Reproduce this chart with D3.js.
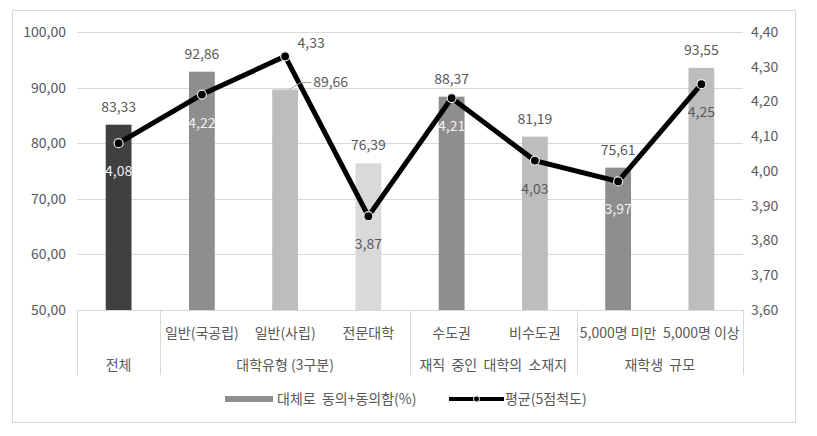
<!DOCTYPE html>
<html><head><meta charset="utf-8">
<script src="https://cdn.jsdelivr.net/npm/d3@7"></script>
<style>
body{margin:0;background:#fff;}
text{font-family:"Noto Sans CJK KR","Noto Sans",sans-serif;}
</style></head>
<body><svg id="chart" width="817" height="436"></svg>
<script>
const categories = ["전체","일반(국공립)","일반(사립)","전문대학","수도권","비수도권","5,000명 미만","5,000명 이상"];
const level1Labels = ["","일반(국공립)","일반(사립)","전문대학","수도권","비수도권","5,000명 미만","5,000명 이상"];
const groupLabels = ["전체","대학유형 (3구분)","재직  중인  대학의  소재지","재학생  규모"];
const groupSizes = [1,3,2,2];
const agreeValues = [83.33,92.86,89.66,76.39,88.37,81.19,75.61,93.55];
const meanValues = [4.08,4.22,4.33,3.87,4.21,4.03,3.97,4.25];
const leftTicks = [50,60,70,80,90,100];
const rightTicks = [3.6,3.7,3.8,3.9,4.0,4.1,4.2,4.3,4.4];
const barColors = ["#404040","#8e8e8e","#bdbdbd","#d9d9d9","#8e8e8e","#bdbdbd","#8e8e8e","#bdbdbd"];
const seriesNames = ["대체로  동의+동의함(%)","평균(5점척도)"];

const svg = d3.select("#chart");
const L=77, R=743, T=32, B=310;
const FS = 14;
const fmt2 = v => d3.format(".2f")(v).replace(".",",");

svg.append("rect").attr("x",12.5).attr("y",10.5).attr("width",783).attr("height",412)
  .attr("fill","#fff").attr("stroke","#d9d9d9");

const x = d3.scaleBand().domain(categories).range([L,R]).paddingInner(0.69).paddingOuter(0.345);
const yL = d3.scaleLinear().domain([50,100]).range([B,T]);
const yR = d3.scaleLinear().domain([3.6,4.4]).range([B,T]);
const cx = c => x(c) + x.bandwidth()/2;

// gridlines
svg.append("g").selectAll("line").data(leftTicks.slice(1)).join("line")
  .attr("x1",L).attr("x2",R).attr("y1",d=>Math.round(yL(d))+0.5).attr("y2",d=>Math.round(yL(d))+0.5)
  .attr("stroke","#d9d9d9");

// left axis labels
const lAxis = svg.append("g").attr("transform",`translate(${L},0)`)
  .call(d3.axisLeft(yL).tickValues(leftTicks).tickFormat(fmt2).tickSize(0).tickPadding(11));
lAxis.select(".domain").remove();
lAxis.selectAll("text").attr("fill","#595959").attr("font-size",FS);

const rAxis = svg.append("g").attr("transform",`translate(${R},0)`)
  .call(d3.axisRight(yR).tickValues(rightTicks).tickFormat(fmt2).tickSize(0).tickPadding(8));
rAxis.select(".domain").remove();
rAxis.selectAll("text").attr("fill","#595959").attr("font-size",FS);

// bars
svg.append("g").selectAll("rect").data(agreeValues).join("rect")
  .attr("x",(d,i)=>x(categories[i])).attr("width",x.bandwidth())
  .attr("y",d=>yL(d)).attr("height",d=>yL(50)-yL(d))
  .attr("fill",(d,i)=>barColors[i]);

// category axis
const ax = svg.append("g").attr("stroke","#d9d9d9").attr("fill","none");
ax.append("line").attr("x1",L).attr("x2",R).attr("y1",B+0.5).attr("y2",B+0.5);
let acc = 0;
const bounds=[L];
groupSizes.forEach(s=>{acc+=s; bounds.push(x(categories[acc-1]) + x.bandwidth() + x.step()*x.paddingInner()/2);});
bounds[bounds.length-1]=R;
ax.selectAll("line.sep").data(bounds).join("line").attr("class","sep")
  .attr("x1",d=>Math.round(d)+0.5).attr("x2",d=>Math.round(d)+0.5).attr("y1",B).attr("y2",375);

svg.append("g").selectAll("text").data(level1Labels).join("text")
  .attr("x",(d,i)=>cx(categories[i])).attr("y",338).attr("text-anchor","middle")
  .attr("font-size",FS).attr("fill","#595959").text(d=>d);
svg.append("g").selectAll("text").data(groupLabels).join("text")
  .attr("x",(d,i)=>(bounds[i]+bounds[i+1])/2).attr("y",370).attr("text-anchor","middle")
  .attr("font-size",FS).attr("fill","#595959").attr("xml:space","preserve").style("white-space","pre").text(d=>d);

// line
const line = d3.line().x((d,i)=>cx(categories[i])).y(d=>yR(d));
svg.append("path").datum(meanValues).attr("d",line).attr("fill","none")
  .attr("stroke","#000").attr("stroke-width",5).attr("stroke-linejoin","miter");
svg.append("g").selectAll("circle").data(meanValues).join("circle")
  .attr("cx",(d,i)=>cx(categories[i])).attr("cy",d=>yR(d)).attr("r",4.5)
  .attr("fill","#000").attr("stroke","#e8e8e8").attr("stroke-width",1.2);

// bar labels
svg.append("g").selectAll("text").data(agreeValues).join("text")
  .attr("x",(d,i)=> i===2 ? cx(categories[i])+28 : cx(categories[i]))
  .attr("y",(d,i)=> i===2 ? yL(d)-2 : yL(d)-13)
  .attr("text-anchor",(d,i)=> i===2 ? "start":"middle")
  .attr("font-size",FS).attr("fill","#595959").text(d=>fmt2(d));
// leader line for label 3
{
  const bx = cx(categories[2]), by = yL(agreeValues[2]);
  svg.append("path").attr("d",`M${bx+4},${by} L${bx+16},${by-7} L${bx+26},${by-7}`)
    .attr("fill","none").attr("stroke","#a6a6a6").attr("stroke-width",1);
}

// line labels
const whiteLabel = [true,true,false,false,true,false,true,false];
svg.append("g").selectAll("text").data(meanValues).join("text")
  .attr("x",(d,i)=> i===2 ? cx(categories[i])+26 : cx(categories[i]))
  .attr("y",(d,i)=> i===2 ? yR(d)-8 : yR(d)+33)
  .attr("text-anchor","middle").attr("font-size",FS)
  .attr("fill",(d,i)=> whiteLabel[i] ? "#f2f2f2" : "#595959").text(d=>fmt2(d));

// legend
const lg = svg.append("g");
lg.append("rect").attr("x",225).attr("y",396).attr("width",48).attr("height",6).attr("fill","#8e8e8e");
lg.append("text").attr("x",277).attr("y",404).attr("font-size",FS).attr("fill","#595959")
  .attr("xml:space","preserve").style("white-space","pre").text(seriesNames[0]);
lg.append("line").attr("x1",449).attr("x2",504).attr("y1",399).attr("y2",399).attr("stroke","#000").attr("stroke-width",4);
lg.append("circle").attr("cx",476.5).attr("cy",399).attr("r",3).attr("fill","#000").attr("stroke","#e8e8e8");
lg.append("text").attr("x",505).attr("y",404).attr("font-size",FS).attr("fill","#595959").text(seriesNames[1]);
</script></body></html>
